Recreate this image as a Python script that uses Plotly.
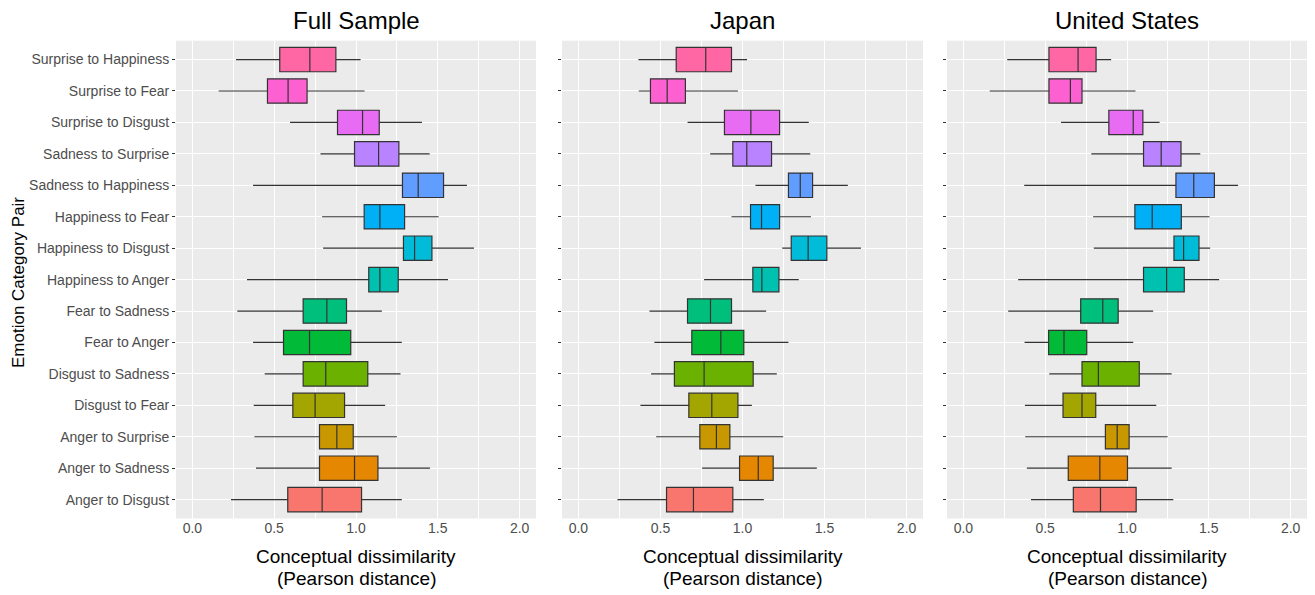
import plotly.graph_objects as go

W, H = 1315, 595

# Categories, bottom to top (ggplot factor order)
categories = [
    "Anger to Disgust", "Anger to Sadness", "Anger to Surprise",
    "Disgust to Fear", "Disgust to Sadness", "Fear to Anger", "Fear to Sadness",
    "Happiness to Anger", "Happiness to Disgust", "Happiness to Fear",
    "Sadness to Happiness", "Sadness to Surprise", "Surprise to Disgust",
    "Surprise to Fear", "Surprise to Happiness",
]
colors = ["#F8766D", "#E58700", "#C99800", "#A3A500", "#6BB100", "#00BA38",
          "#00BF7D", "#00C0AF", "#00BCD8", "#00B0F6", "#619CFF", "#B983FF",
          "#E76BF3", "#FD61D1", "#FF67A4"]

panel_titles = ["Full Sample", "Japan", "United States"]
x_ticks = [0.0, 0.5, 1.0, 1.5, 2.0]
x_ticklabels = ["0.0", "0.5", "1.0", "1.5", "2.0"]

# Full sample
full_low = [0.236, 0.389, 0.379, 0.375, 0.442, 0.371, 0.275, 0.334, 0.799, 0.793, 0.371, 0.783, 0.597, 0.161, 0.267]
full_q1 = [0.583, 0.777, 0.777, 0.614, 0.677, 0.557, 0.677, 1.078, 1.290, 1.050, 1.284, 0.991, 0.887, 0.459, 0.534]
full_med = [0.793, 0.991, 0.883, 0.750, 0.815, 0.716, 0.822, 1.146, 1.358, 1.146, 1.380, 1.138, 1.040, 0.585, 0.718]
full_q3 = [1.034, 1.134, 0.983, 0.930, 1.072, 0.968, 0.942, 1.258, 1.464, 1.297, 1.535, 1.262, 1.142, 0.701, 0.877]
full_high = [1.280, 1.452, 1.250, 1.178, 1.272, 1.280, 1.158, 1.562, 1.721, 1.505, 1.678, 1.450, 1.403, 1.052, 1.028]

# Japan
jp_low = [0.238, 0.754, 0.474, 0.378, 0.443, 0.463, 0.433, 0.766, 1.242, 0.933, 1.079, 0.803, 0.665, 0.368, 0.366]
jp_q1 = [0.537, 0.982, 0.740, 0.673, 0.585, 0.691, 0.665, 1.063, 1.297, 1.049, 1.280, 0.941, 0.890, 0.439, 0.596]
jp_med = [0.701, 1.096, 0.841, 0.813, 0.766, 0.868, 0.805, 1.118, 1.400, 1.116, 1.352, 1.026, 1.051, 0.541, 0.776]
jp_q3 = [0.941, 1.187, 0.923, 0.972, 1.065, 1.008, 0.933, 1.222, 1.514, 1.226, 1.427, 1.177, 1.226, 0.652, 0.933]
jp_high = [1.130, 1.453, 1.248, 1.057, 1.209, 1.280, 1.144, 1.343, 1.722, 1.417, 1.642, 1.413, 1.404, 0.972, 1.028]

# United States
us_low = [0.413, 0.388, 0.378, 0.376, 0.525, 0.374, 0.274, 0.335, 0.797, 0.793, 0.372, 0.782, 0.597, 0.161, 0.268]
us_q1 = [0.672, 0.641, 0.868, 0.609, 0.725, 0.521, 0.717, 1.101, 1.287, 1.048, 1.299, 1.101, 0.889, 0.523, 0.523]
us_med = [0.838, 0.834, 0.940, 0.725, 0.825, 0.615, 0.852, 1.242, 1.346, 1.154, 1.408, 1.209, 1.038, 0.654, 0.701]
us_q3 = [1.056, 1.003, 1.013, 0.809, 1.075, 0.754, 0.946, 1.350, 1.440, 1.332, 1.534, 1.330, 1.097, 0.725, 0.811]
us_high = [1.283, 1.273, 1.248, 1.179, 1.273, 1.038, 1.160, 1.563, 1.508, 1.504, 1.679, 1.448, 1.199, 1.052, 0.903]

panels = [
    (full_low, full_q1, full_med, full_q3, full_high),
    (jp_low, jp_q1, jp_med, jp_q3, jp_high),
    (us_low, us_q1, us_med, us_q3, us_high),
]

FONT = "Liberation Sans, Arial, Helvetica, sans-serif"
px_x = [(176, 536), (562, 923), (947, 1307)]
top_px, bot_px = 40.7, 518.5

fig = go.Figure()
layout = dict(
    width=W, height=H,
    margin=dict(l=0, r=0, t=0, b=0, autoexpand=False),
    paper_bgcolor="white",
    plot_bgcolor="#EBEBEB",
    showlegend=False,
    font=dict(family=FONT),
    annotations=[],
)

for p, (low, q1, med, q3, high) in enumerate(panels):
    xa = "x" if p == 0 else f"x{p+1}"
    ya = "y" if p == 0 else f"y{p+1}"
    for i, cat in enumerate(categories):
        fig.add_trace(go.Box(
            y=[cat], lowerfence=[low[i]], q1=[q1[i]], median=[med[i]],
            q3=[q3[i]], upperfence=[high[i]],
            orientation="h", boxpoints=False, whiskerwidth=0,
            width=0.775, fillcolor=colors[i],
            line=dict(color="#333333", width=1.2),
            xaxis=xa, yaxis=ya, hoverinfo="skip",
        ))
    xkey = "xaxis" if p == 0 else f"xaxis{p+1}"
    ykey = "yaxis" if p == 0 else f"yaxis{p+1}"
    x0, x1 = px_x[p]
    layout[xkey] = dict(
        domain=[x0 / W, x1 / W], anchor=ya,
        range=[-0.1, 2.1], tickvals=x_ticks, ticktext=x_ticklabels,
        showgrid=True, gridcolor="white", gridwidth=1.1, zeroline=False,
        minor=dict(dtick=0.25, tick0=0.25, showgrid=True, gridcolor="white", gridwidth=0.5),
        ticks="", ticklabelstandoff=-1,
        tickfont=dict(size=14, color="#4D4D4D", family=FONT),
        showline=False, fixedrange=True, automargin=False,
    )
    layout[ykey] = dict(
        domain=[1 - bot_px / H, 1 - top_px / H], anchor=xa,
        type="category", categoryorder="array", categoryarray=categories,
        range=[-0.6, 14.6],
        showgrid=True, gridcolor="white", gridwidth=1.1, zeroline=False,
        ticks="outside", ticklen=3, tickcolor="#333333", tickwidth=1,
        showticklabels=(p == 0),
        tickfont=dict(size=14, color="#4D4D4D", family=FONT),
        showline=False, fixedrange=True, automargin=False,
    )
    cx = (x0 + x1) / 2 / W
    layout["annotations"].append(dict(
        text=panel_titles[p], x=cx, y=1 - 21 / H, xref="paper", yref="paper",
        xanchor="center", yanchor="middle", showarrow=False,
        font=dict(size=24, color="black", family=FONT)))
    layout["annotations"].append(dict(
        text="Conceptual dissimilarity", x=cx, y=1 - 556 / H, xref="paper", yref="paper",
        xanchor="center", yanchor="middle", showarrow=False,
        font=dict(size=19, color="black", family=FONT)))
    layout["annotations"].append(dict(
        text="(Pearson distance)", x=cx, y=1 - 578 / H, xref="paper", yref="paper",
        xanchor="center", yanchor="middle", showarrow=False,
        font=dict(size=19, color="black", family=FONT)))

layout["annotations"].append(dict(
    text="Emotion Category Pair", x=18 / W, y=1 - 283 / H, xref="paper", yref="paper",
    xanchor="center", yanchor="middle", showarrow=False, textangle=-90,
    font=dict(size=17, color="black", family=FONT)))

fig.update_layout(**layout)
fig.write_html(
    "out.html",
    config={"displayModeBar": False},
    post_script="document.body.style.margin='0';document.body.style.padding='0';document.body.style.overflow='hidden';",
)
